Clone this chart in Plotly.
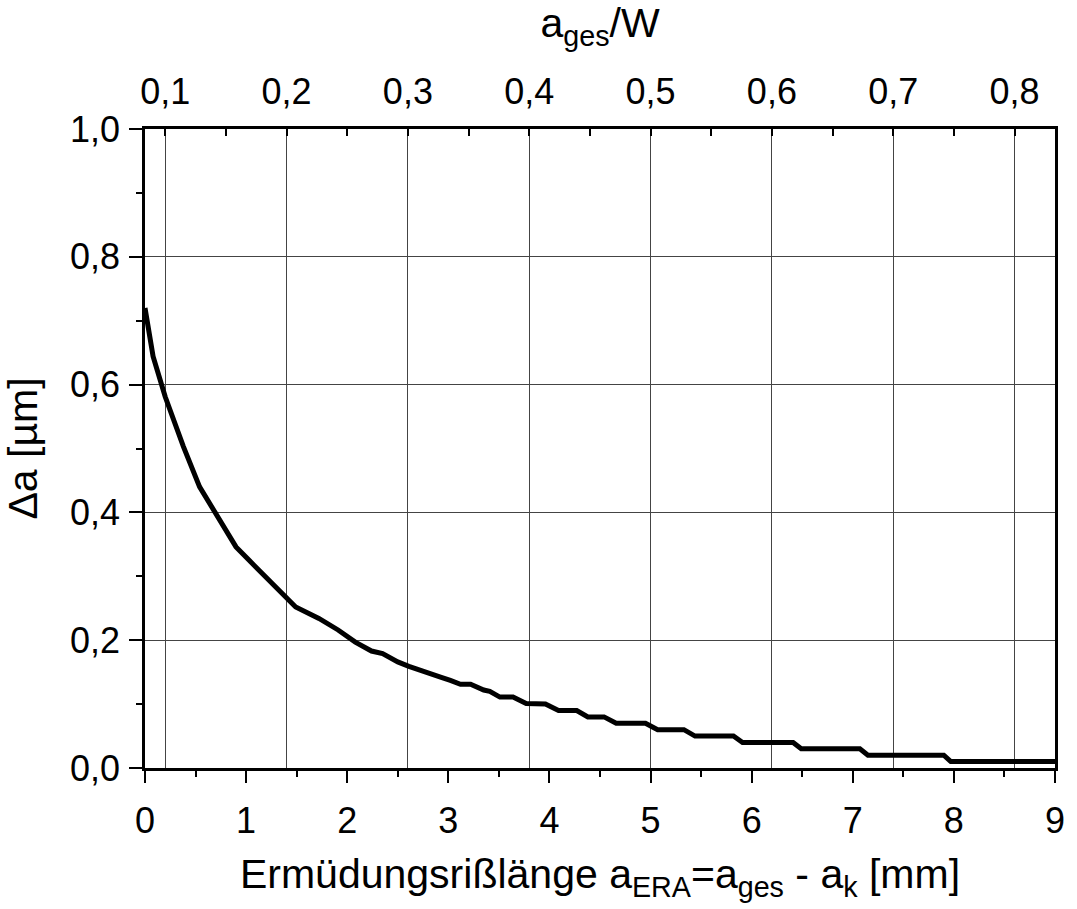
import plotly.graph_objects as go

# crack length a_ERA [mm]
a_era = [0, 0.08, 0.2, 0.28, 0.38, 0.54, 0.64, 0.74, 0.9, 1.03, 1.2, 1.39, 1.49,
         1.72, 1.91, 2.08, 2.24, 2.35, 2.5, 2.61, 2.75, 2.83, 2.93, 3.02, 3.12,
         3.22, 3.35, 3.41, 3.51, 3.64, 3.77, 3.96, 4.09, 4.27, 4.38, 4.54, 4.66,
         4.95, 5.07, 5.33, 5.44, 5.82, 5.91, 6.41, 6.49, 7.07, 7.15, 7.90, 7.97, 9.0]
# delta a [µm]
delta_a = [0.72, 0.644, 0.581, 0.545, 0.503, 0.44, 0.414, 0.388, 0.346, 0.325,
           0.297, 0.268, 0.252, 0.234, 0.216, 0.197, 0.183, 0.179, 0.166, 0.159,
           0.152, 0.149, 0.142, 0.137, 0.131, 0.131, 0.122, 0.12, 0.111, 0.111,
           0.101, 0.100, 0.09, 0.09, 0.08, 0.08, 0.07, 0.07, 0.06, 0.06, 0.05,
           0.05, 0.04, 0.04, 0.03, 0.03, 0.02, 0.02, 0.01, 0.01]

A_K = 1.0   # mm
W = 12.0    # mm
x_range = [0, 9]
top_ticks = [0.1, 0.2, 0.3, 0.4, 0.5, 0.6, 0.7, 0.8]
top_labels = ["0,1", "0,2", "0,3", "0,4", "0,5", "0,6", "0,7", "0,8"]

FONT = "Arial, Liberation Sans, sans-serif"
TICKF = dict(family=FONT, size=36, color="black")
TITLEF = dict(family=FONT, size=41, color="black")
GRID = "#444444"

fig = go.Figure()
fig.add_trace(go.Scatter(x=a_era, y=delta_a, mode="lines",
                         line=dict(color="black", width=5, shape="linear"),
                         showlegend=False, hoverinfo="skip"))
# invisible trace to carry the top axis
fig.add_trace(go.Scatter(x=[(v + A_K) / W for v in a_era], y=delta_a, xaxis="x2",
                         mode="lines", line=dict(width=0, color="rgba(0,0,0,0)"),
                         showlegend=False, hoverinfo="skip"))

fig.update_layout(
    width=1077, height=909,
    margin=dict(l=145, r=14, t=129, b=141),
    paper_bgcolor="white", plot_bgcolor="white",
    separators=", ",
    font=dict(family=FONT, color="black"),
    xaxis=dict(range=x_range, dtick=1, tick0=0, showgrid=False, zeroline=False,
               showline=True, linecolor="black", linewidth=2.5, mirror=True,
               ticks="outside", ticklen=12, tickwidth=2, tickcolor="black",
               minor=dict(dtick=0.5, ticks="outside", ticklen=6, tickwidth=2, tickcolor="black"),
               tickfont=TICKF, ticklabelstandoff=7,
               title=dict(text="Ermüdungsrißlänge a<sub>ERA</sub>=a<sub>ges</sub> - a<sub>k</sub> [mm]",
                          font=TITLEF, standoff=20)),
    xaxis2=dict(overlaying="x", side="top", range=[(x_range[0] + A_K) / W, (x_range[1] + A_K) / W],
                tickvals=top_ticks, ticktext=top_labels, showgrid=True, gridcolor=GRID, gridwidth=1,
                zeroline=False, showline=True, linecolor="black", linewidth=2.5,
                ticks="inside", ticklen=7, tickwidth=2, tickcolor="black",
                minor=dict(tickvals=[0.15, 0.25, 0.35, 0.45, 0.55, 0.65, 0.75],
                           ticks="inside", ticklen=7, tickwidth=2, tickcolor="black"),
                tickfont=TICKF, ticklabelstandoff=8,
                title=dict(text="a<sub>ges</sub>/W", font=TITLEF, standoff=22)),
    yaxis=dict(range=[0, 1], dtick=0.2, tick0=0, tickformat=".1f", showgrid=True,
               gridcolor=GRID, gridwidth=1, zeroline=False,
               showline=True, linecolor="black", linewidth=2.5, mirror=True,
               ticks="outside", ticklen=13, tickwidth=2, tickcolor="black",
               minor=dict(dtick=0.1, ticks="outside", ticklen=6, tickwidth=2, tickcolor="black"),
               tickfont=TICKF, ticklabelstandoff=2,
               title=dict(text="Δa [µm]", font=TITLEF, standoff=22)),
)

fig.write_html("out.html")
